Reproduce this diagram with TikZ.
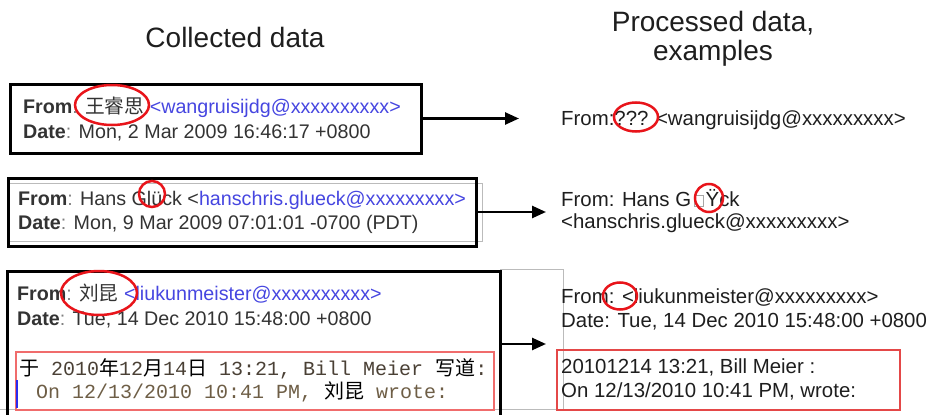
\documentclass[tikz,border=0pt]{standalone}
\usepackage{fontspec}
\setmainfont{Liberation Sans}
\setmonofont{Liberation Mono}
\newfontfamily\cjk{Noto Sans CJK SC}
\usetikzlibrary{arrows.meta}

\definecolor{ink}{HTML}{333333}
\definecolor{darkink}{HTML}{1E1E1E}
\definecolor{colon}{HTML}{808080}
\definecolor{mail}{HTML}{4646E0}
\definecolor{ringred}{HTML}{E8141A}
\definecolor{quotered}{HTML}{F06C6C}
\definecolor{outred}{HTML}{E44848}
\definecolor{framegray}{HTML}{BBBBBB}
\definecolor{quoteone}{HTML}{4A4035}
\definecolor{quotetwo}{HTML}{6E5E46}
\definecolor{quotebar}{HTML}{2A2AF0}

% empty glyph box standing in for an unknown character
\newcommand{\missingglyph}{{\setlength{\fboxsep}{0pt}\setlength{\fboxrule}{1pt}%
  \kern3pt\textcolor{gray!70}{\framebox[10pt]{\rule{0pt}{10.5pt}}}\kern1.5pt}}

\tikzset{
  boxline/.style={draw=black, line width=3pt, inner sep=0pt},
  frame/.style={draw=framegray, line width=0.8pt},
  ring/.style={draw=ringred, line width=2.5pt},
  flow/.style={line width=2.5pt, -{Triangle[length=14pt,width=12pt]}},
  ltxt/.style={anchor=base west, inner sep=0pt, text=ink,
    font=\fontsize{19.7}{24}\selectfont},
  rtxt/.style={anchor=base west, inner sep=0pt, text=darkink,
    font=\fontsize{20.4}{24}\selectfont},
  mtxt/.style={anchor=base west, inner sep=0pt,
    font=\fontsize{20}{24}\selectfont\ttfamily},
  title/.style={anchor=base, inner sep=0pt, text=darkink,
    font=\fontsize{28}{32}\selectfont},
}

\begin{document}
\begin{tikzpicture}[x=1pt,y=-1pt]
\useasboundingbox (0,0) rectangle (930,415);

% column headings
\node[title] (ttlleft) at (235,47) {Collected data};
\node[title] (ttlright) at (713,31) {Processed data,};
\node[title] (ttlright2) at (713,60) {examples};

% thin grey screenshot frames
\draw[frame] (9,183) rectangle (482,241);
\draw[frame] (0,409) -| (563,269) -- (500,269);

% collected headers
\node[boxline, minimum width=411pt, minimum height=69pt] (box1) at (215.5,118.5) {};
\node[boxline, minimum width=468pt, minimum height=68pt] (box2) at (242,212) {};
\node[boxline, minimum width=493pt, minimum height=169pt] (box3) at (253.5,355.5) {};

% quoted reply area
\draw[quotered, line width=1.6pt] (16,352) rectangle (494,410);
\draw[quotebar, line width=2pt] (17,380) -- (17,408);

% header 1
\node[ltxt] (from1) at (23,113) {\textbf{From}\textcolor{colon}{:} {\cjk 王睿思} \textcolor{mail}{<wangruisijdg@xxxxxxxxxx>}};
\node[ltxt] (date1) at (23,138) {\textbf{Date}\textcolor{colon}{:} Mon, 2 Mar 2009 16:46:17 +0800};

% header 2
\node[ltxt] (from2) at (18,205) {\textbf{From}\textcolor{colon}{:} Hans Glück <\textcolor{mail}{hanschris.glueck@xxxxxxxxx>}};
\node[ltxt] (date2) at (18,229) {\textbf{Date}\textcolor{colon}{:} Mon, 9 Mar 2009 07:01:01 -0700 (PDT)};

% header 3
\node[ltxt] (from3) at (17,300) {\textbf{From}\textcolor{colon}{:} {\cjk 刘昆} \textcolor{mail}{<liukunmeister@xxxxxxxxxx>}};
\node[ltxt] (date3) at (17,325) {\textbf{Date}\textcolor{colon}{:} Tue, 14 Dec 2010 15:48:00 +0800};
\node[mtxt, text=quoteone] (quote1) at (19,375) {{\cjk\color{black}于} 2010{\cjk\color{black}年}12{\cjk\color{black}月}14{\cjk\color{black}日} 13:21, Bill Meier {\cjk\color{black}写道}:};
\node[mtxt, text=quotetwo] (quote2) at (36,398) {On 12/13/2010 10:41 PM, {\cjk\color{black}刘昆} wrote:};

% processed results
\node[rtxt] (out1) at (561,125) {From:??? <wangruisijdg@xxxxxxxxx>};
\node[rtxt] (out2) at (561,206) {From: Hans G\missingglyph Ÿck};
\node[rtxt] (out2b) at (561,228) {<hanschris.glueck@xxxxxxxxx>};
\node[rtxt] (out3) at (561,303) {From: <liukunmeister@xxxxxxxxx>};
\node[rtxt] (out3b) at (561,327) {Date: Tue, 14 Dec 2010 15:48:00 +0800};
\draw[outred, line width=1.8pt] (557,350) rectangle (900,410);
\node[rtxt] (out3c) at (561,373) {20101214 13:21, Bill Meier :};
\node[rtxt] (out3d) at (561,397) {On 12/13/2010 10:41 PM, wrote:};

% highlighted problem spots
\draw[ring] (112,105) ellipse [x radius=37pt, y radius=20pt];
\draw[ring] (152,194) circle [radius=13pt];
\draw[ring] (99,293) ellipse [x radius=38pt, y radius=22pt];
\draw[ring] (636,117) ellipse [x radius=22pt, y radius=14.5pt];
\draw[ring] (709,198) circle [radius=14pt];
\draw[ring] (620,296) ellipse [x radius=17pt, y radius=13.5pt];

% conversion arrows
\coordinate (tip1) at (519,118.5);
\coordinate (tip2) at (546,212);
\coordinate (tip3) at (546,344);
\draw[flow] (box1.east) -- (tip1);
\draw[flow] (box2.east) -- (tip2);
\draw[flow] (box3.east |- tip3) -- (tip3);
\end{tikzpicture}
\end{document}
